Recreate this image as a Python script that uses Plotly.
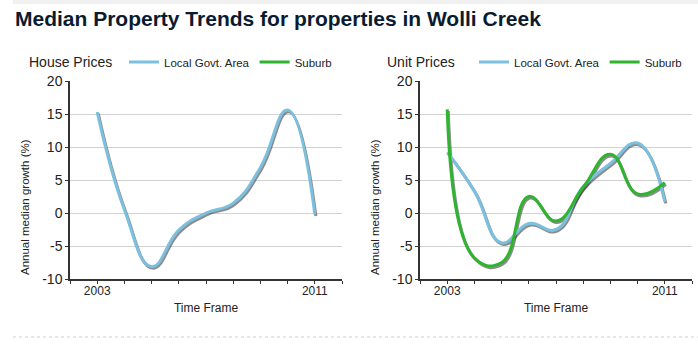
import plotly.graph_objects as go

# ---------------- data ----------------
years = [2003, 2004, 2005, 2006, 2007, 2008, 2009, 2010, 2011]
house_lga = [15.3, 0.5, -8.1, -2.6, 0.0, 1.5, 6.9, 15.6, -0.2]
house_suburb = [None] * 9   # not drawn in the reference (legend entry only)
unit_lga = [9.2, 3.3, -4.5, -1.6, -2.5, 4.0, 7.5, 10.6, 1.7]
unit_suburb = [15.7, -6.8, -7.5, 2.5, -1.2, 3.9, 8.9, 2.9, 4.6]

x_tick_vals = list(range(2002, 2013))
x_tick_text = ["" if v not in (2003, 2011) else str(v) for v in x_tick_vals]
y_tick_vals = [-10, -5, 0, 5, 10, 15, 20]
y_tick_text = ["-10", "-5", "0", "5", "10", "15", "20"]

panel_titles = ["House Prices", "Unit Prices"]
series_names = ["Local Govt. Area", "Suburb"]
y_title = "Annual median growth (%)"
x_title = "Time Frame"

# ---------------- style ----------------
W, H = 698, 357
BLUE = "#7cc0df"
GREEN = "#2eb42e"
SHADOW = "rgba(45,45,45,0.55)"
FONT = "Liberation Sans, Arial, sans-serif"
TXT = "#222222"
SMOOTH = 1.3

XR = [2002, 2012]
YR = [-10, 20]
dxs = 0.04     # shadow offset (in axis units -> ~1px)
dys = 0.25


def px_x(p):
    return p / W


def px_y(p):
    return 1 - p / H


panels = [
    dict(x0=70, x1=342, lga=house_lga, sub=house_suburb, legend="legend"),
    dict(x0=420, x1=692, lga=unit_lga, sub=unit_suburb, legend="legend2"),
]
y_top, y_bot = 81, 279
ydom = [px_y(y_bot), px_y(y_top)]

fig = go.Figure()
layout = dict(
    width=W, height=H,
    margin=dict(l=0, r=0, t=0, b=0, autoexpand=False),
    paper_bgcolor="white", plot_bgcolor="white",
    font=dict(family=FONT, color=TXT),
    showlegend=True,
)


def akey(kind, n):
    return kind if n == 1 else f"{kind}{n}"


def aref(kind, n):
    return kind if n == 1 else f"{kind}{n}"


annotations = []
for i, p in enumerate(panels):
    sh = i + 1   # base axes: shifted range, invisible -> shadows
    ln = i + 3   # overlay axes: true range, visible -> lines, grid, ticks
    xdom = [px_x(p["x0"]), px_x(p["x1"])]

    layout[akey("xaxis", sh)] = dict(
        domain=xdom, anchor=aref("y", sh), range=[XR[0] - dxs, XR[1] - dxs],
        visible=False, fixedrange=True,
    )
    layout[akey("yaxis", sh)] = dict(
        domain=ydom, anchor=aref("x", sh), range=[YR[0] + dys, YR[1] + dys],
        visible=False, fixedrange=True,
    )
    layout[akey("xaxis", ln)] = dict(
        overlaying=aref("x", sh), anchor=aref("y", ln), range=XR,
        tickmode="array", tickvals=x_tick_vals, ticktext=x_tick_text,
        ticks="outside", ticklen=3, tickcolor="#333", showline=True,
        linecolor="#333", linewidth=1.5, showgrid=False, zeroline=False,
        tickfont=dict(size=12, color=TXT), fixedrange=True, automargin=False,
        ticklabelstandoff=-3,
        title=dict(text=x_title, font=dict(size=12, color=TXT), standoff=6),
    )
    layout[akey("yaxis", ln)] = dict(
        overlaying=aref("y", sh), anchor=aref("x", ln), range=YR,
        tickmode="array", tickvals=y_tick_vals, ticktext=y_tick_text,
        ticks="outside", ticklen=3,
        tickcolor="#333", showline=True, linecolor="#333", linewidth=1.5,
        showgrid=True, gridcolor="#d2d2d2", gridwidth=1, zeroline=False,
        tickfont=dict(size=14, color=TXT), fixedrange=True, automargin=False,
    )

    # shadows (beneath)
    for vals in (p["lga"], p["sub"]):
        fig.add_trace(go.Scatter(
            x=years, y=vals, mode="lines",
            line=dict(color=SHADOW, width=3, shape="spline", smoothing=SMOOTH),
            xaxis=aref("x", sh), yaxis=aref("y", sh), showlegend=False,
            hoverinfo="skip",
        ))
    # lines
    for name, vals, col in ((series_names[0], p["lga"], BLUE),
                            (series_names[1], p["sub"], GREEN)):
        fig.add_trace(go.Scatter(
            x=years, y=vals, mode="lines", name=name,
            line=dict(color=col, width=3, shape="spline", smoothing=SMOOTH),
            xaxis=aref("x", ln), yaxis=aref("y", ln), legend=p["legend"],
        ))
    layout[p["legend"]] = dict(
        orientation="h", x=px_x(p["x0"] + 54), xanchor="left",
        y=px_y(62), yanchor="middle", bgcolor="rgba(0,0,0,0)",
        font=dict(size=11.5, color=TXT), itemwidth=30,
    )
    annotations.append(dict(
        text=y_title, textangle=-90, x=px_x(p["x0"] - 45), y=px_y(207),
        xref="paper", yref="paper", xanchor="center", yanchor="middle",
        showarrow=False, font=dict(family=FONT, size=11.5, color=TXT)))

annotations.append(dict(
    text="Median Property Trends for properties in Wolli Creek",
    x=px_x(13), y=px_y(18), xref="paper", yref="paper",
    xanchor="left", yanchor="middle", showarrow=False,
    font=dict(family=FONT, size=21, color="#0b1b2f", weight="bold")))
for t, x in zip(panel_titles, (27, 385)):
    annotations.append(dict(text=t, x=px_x(x), y=px_y(62), xref="paper", yref="paper",
                            xanchor="left", yanchor="middle", showarrow=False,
                            font=dict(family=FONT, size=14, color=TXT)))
layout["annotations"] = annotations
layout["shapes"] = [
    dict(type="rect", xref="paper", yref="paper", x0=px_x(13), x1=1,
         y0=px_y(4), y1=1, fillcolor="#f1f1f1", line=dict(width=0), layer="below"),
    dict(type="line", xref="paper", yref="paper", x0=px_x(13), x1=1,
         y0=px_y(337), y1=px_y(337), line=dict(color="#cfcfcf", width=1, dash="dot")),
]

fig.update_layout(**layout)
fig.write_html(
    "out.html",
    config={"displayModeBar": False},
    post_script="document.body.style.margin='0';document.body.style.overflow='hidden';",
)
